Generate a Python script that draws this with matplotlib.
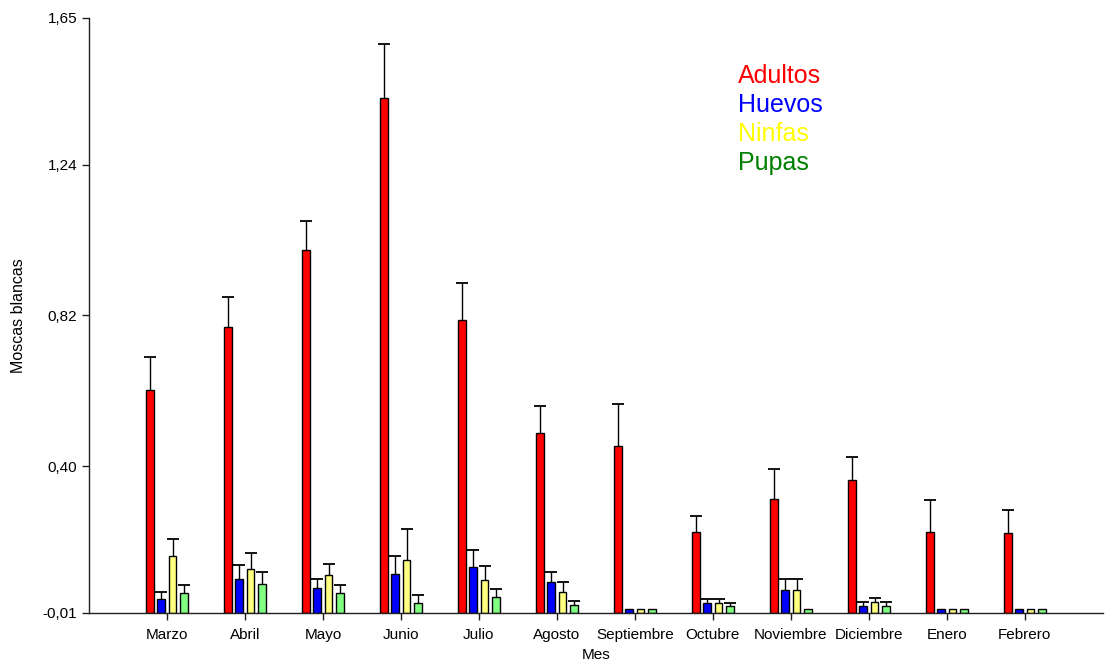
import matplotlib.pyplot as plt
import numpy as np

plt.rcParams['font.family'] = ['Liberation Sans', 'DejaVu Sans']

meses = ["Marzo", "Abril", "Mayo", "Junio", "Julio", "Agosto", "Septiembre",
         "Octubre", "Noviembre", "Diciembre", "Enero", "Febrero"]

adultos = [0.612, 0.788, 1.003, 1.426, 0.806, 0.493, 0.456, 0.217, 0.308, 0.360, 0.217, 0.213]
adultos_err = [0.093, 0.084, 0.081, 0.152, 0.104, 0.075, 0.117, 0.044, 0.084, 0.065, 0.087, 0.064]

huevos = [0.030, 0.086, 0.059, 0.099, 0.119, 0.077, 0.0, 0.017, 0.053, 0.009, 0.0, 0.0]
huevos_err = [0.019, 0.039, 0.027, 0.051, 0.047, 0.028, 0.0, 0.012, 0.032, 0.012, 0.0, 0.0]

ninfas = [0.150, 0.114, 0.095, 0.138, 0.083, 0.049, 0.0, 0.017, 0.053, 0.021, 0.0, 0.0]
ninfas_err = [0.046, 0.043, 0.033, 0.085, 0.039, 0.028, 0.0, 0.012, 0.032, 0.012, 0.0, 0.0]

pupas = [0.046, 0.070, 0.046, 0.018, 0.036, 0.012, 0.0, 0.009, 0.0, 0.009, 0.0, 0.0]
pupas_err = [0.023, 0.035, 0.021, 0.021, 0.022, 0.012, 0.0, 0.008, 0.0, 0.012, 0.0, 0.0]

series = [
    ("Adultos", adultos, adultos_err, "#FF0000", "#FF0000"),
    ("Huevos", huevos, huevos_err, "#0000FF", "#0000FF"),
    ("Ninfas", ninfas, ninfas_err, "#FFFF80", "#FFFF00"),
    ("Pupas", pupas, pupas_err, "#80FF80", "#008000"),
]

base = -0.01
x = np.arange(len(meses))
paso = 0.146
ancho = 0.097

fig = plt.figure(figsize=(11.05, 6.65), dpi=100)
ax = fig.add_axes([0.0805, 0.0782, 0.9175, 0.8948])

for i, (nombre, vals, errs, color, _) in enumerate(series):
    pos = x + (i - 1.5) * paso
    vals = np.array(vals)
    errs = np.array(errs)
    ax.bar(pos, vals - base, bottom=base, width=ancho, color=color,
           edgecolor="black", linewidth=1, zorder=2)
    # solo la mitad superior del error, con su tope
    m = errs > 0
    ax.vlines(pos[m], vals[m], vals[m] + errs[m], color="black", lw=1, zorder=1)
    ax.plot(pos[m], vals[m] + errs[m], linestyle="none", marker="_",
            markersize=8, markeredgewidth=1.3, color="black", zorder=3)

ax.set_xlim(-1, 12)
ax.set_ylim(-0.01, 1.65)
ax.set_yticks([-0.01, 0.40, 0.82, 1.24, 1.65])
ax.set_yticklabels(["-0,01", "0,40", "0,82", "1,24", "1,65"])
ax.set_xticks(x)
ax.set_xticklabels(meses)
ax.tick_params(axis="both", labelsize=11, length=5, width=1, color="#202020")
ax.tick_params(axis="x", pad=6)

for s in ["top", "right"]:
    ax.spines[s].set_visible(False)
for s in ["left", "bottom"]:
    ax.spines[s].set_linewidth(1)
    ax.spines[s].set_color("#202020")

ax.set_xlabel("Mes", fontsize=11, labelpad=4)
ax.set_ylabel("Moscas blancas", fontsize=11.5, labelpad=12)

for i, (nombre, _, _, _, tcolor) in enumerate(series):
    fig.text(0.668, 1 - (76 + 29 * i) / 665, nombre, color=tcolor,
             fontsize=18, va="center", ha="left")

fig.savefig("out.png", dpi=100)
